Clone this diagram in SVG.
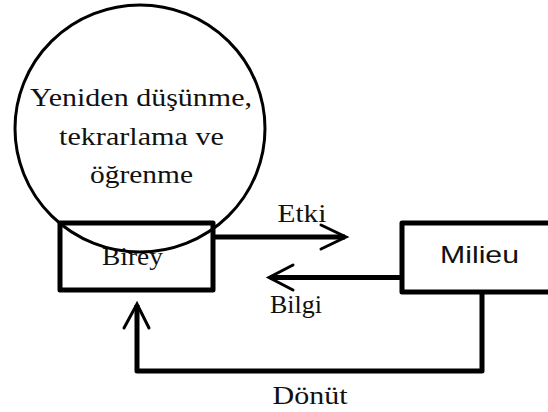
<svg xmlns="http://www.w3.org/2000/svg" width="548" height="412" viewBox="0 0 548 412">
<style>
.box{fill:#fff;stroke:#000;stroke-width:5;stroke-linejoin:round}
.ring{fill:none;stroke:#000;stroke-width:3}
.line{fill:none;stroke:#000;stroke-width:5;stroke-linejoin:round}
.head{fill:none;stroke:#000;stroke-width:3;stroke-linecap:round;stroke-linejoin:miter}
.t{font-family:"Liberation Serif","Times New Roman",serif;font-size:26px;fill:#111;text-anchor:middle}
.s{font-family:"Liberation Sans",Arial,sans-serif;font-size:24px;fill:#111;text-anchor:middle}
</style>
<rect width="548" height="412" fill="#fff"/>
<g id="connectors">
<path class="line" d="M213 237H345"/>
<path class="head" d="M321 225L346 237L321 249"/>
<path class="line" d="M402 277.5H270"/>
<path class="head" d="M293 265L269 277.5L293 290"/>
<path class="line" d="M482 292V371H137V305"/>
<path class="head" d="M124 328L137 304L149 328"/>
<text class="t" x="302" y="222" textLength="49" lengthAdjust="spacingAndGlyphs">Etki</text>
<text class="t" x="296" y="313" textLength="52" lengthAdjust="spacingAndGlyphs">Bilgi</text>
<text class="t" x="310" y="404" textLength="75" lengthAdjust="spacingAndGlyphs">Dönüt</text>
</g>
<g id="birey">
<rect class="box" x="60" y="223" width="153" height="67"/>
<text class="t" x="132.5" y="265" textLength="61" lengthAdjust="spacingAndGlyphs">Birey</text>
</g>
<g id="milieu">
<rect class="box" x="402" y="223" width="200" height="69"/>
<text class="s" x="479.5" y="263" textLength="79" lengthAdjust="spacingAndGlyphs">Milieu</text>
</g>
<g id="reflection">
<ellipse class="ring" cx="140" cy="128.5" rx="125" ry="123.5"/>
<text class="t" x="141" y="106" textLength="222" lengthAdjust="spacingAndGlyphs">Yeniden düşünme,</text>
<text class="t" x="141.5" y="145" textLength="165" lengthAdjust="spacingAndGlyphs">tekrarlama ve</text>
<text class="t" x="141.5" y="183" textLength="103" lengthAdjust="spacingAndGlyphs">öğrenme</text>
</g>
</svg>
